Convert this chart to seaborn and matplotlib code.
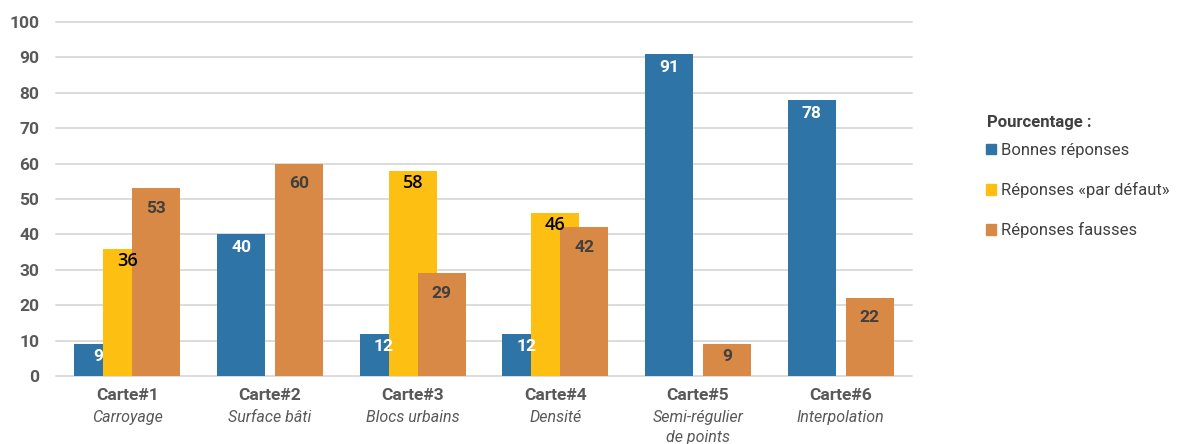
import numpy as np
import pandas as pd
import seaborn as sns
import matplotlib.pyplot as plt
from matplotlib.patches import Patch

# Data
cartes = ["Carte#1", "Carte#2", "Carte#3", "Carte#4", "Carte#5", "Carte#6"]
sous_titres = ["Carroyage", "Surface bâti", "Blocs urbains", "Densité",
               "Semi-régulier\nde points", "Interpolation"]
bonnes = [9, 40, 12, 12, 91, 78]
defaut = [36, np.nan, 58, 46, np.nan, np.nan]
fausses = [53, 60, 29, 42, 9, 22]
series = ["Bonnes réponses", "Réponses «par défaut»", "Réponses fausses"]
couleurs = ["#2e74a7", "#fcbf12", "#d78945"]

sns.set_theme(style="white")
plt.rcParams['font.family'] = ['Roboto', 'DejaVu Sans']

fig = plt.figure(figsize=(11.99, 4.44), dpi=100)
ax = fig.add_axes([0.0467, 0.1532, 0.714, 0.797])

offsets = [-0.203, 0.0, 0.203]
label_style = [
    dict(color="white", fontweight="bold", fontsize=12.5),
    dict(color="black", fontweight="semibold", fontsize=13, family=["Open Sans", "DejaVu Sans"]),
    dict(color="#404040", fontweight="bold", fontsize=12.5),
]
label_drop = [3.7, 3.4, 5.6]

for k, vals in enumerate([bonnes, defaut, fausses]):
    d = pd.DataFrame({"pos": np.arange(len(cartes)) + offsets[k], "val": vals}).dropna()
    sns.barplot(data=d, x="pos", y="val", native_scale=True, width=0.336,
                color=couleurs[k], saturation=1, errorbar=None, ax=ax,
                zorder=2 + k, linewidth=0)
    for p, v in zip(d["pos"], d["val"]):
        dy = min(label_drop[k], 0.4 * v)
        ax.text(p, v - dy, f"{v:.0f}", ha="center", va="center", zorder=10,
                **label_style[k])

ax.set_xlim(-0.5, len(cartes) - 0.5)
ax.set_ylim(0, 100)
ax.set_xlabel("")
ax.set_ylabel("")
ax.set_yticks(range(0, 101, 10))
ax.set_yticklabels([str(t) for t in range(0, 101, 10)], fontweight="bold",
                   color="#595959", fontsize=12.5)
ax.set_xticks(range(len(cartes)))
ax.set_xticklabels(cartes, fontweight="bold", color="#595959", fontsize=12.5)
ax.tick_params(axis="y", length=0, pad=12)
ax.tick_params(axis="x", length=0, pad=9)

for i, s in enumerate(sous_titres):
    ax.text(i, -0.097, s, transform=ax.get_xaxis_transform(), ha="center",
            va="top", style="italic", color="#595959", fontsize=11.5,
            linespacing=1.35)

ax.set_axisbelow(True)
ax.yaxis.grid(True, color="#d9d9d9", linewidth=1.3)
for line in ax.get_ygridlines():
    line.set_clip_on(False)
sns.despine(ax=ax, left=True, bottom=True)

# legend: title as separate text, entries below
fig.text(0.823, 0.725, "Pourcentage :", fontweight="bold", fontsize=12,
         color="#404040", ha="left", va="center")
handles = [Patch(color=c, label=s) for c, s in zip(couleurs, series)]
leg = fig.legend(handles=handles, loc="upper left",
                 bbox_to_anchor=(0.822, 0.678), frameon=False,
                 handlelength=0.6, handleheight=0.6, handletextpad=0.3,
                 labelspacing=1.45, borderpad=0, borderaxespad=0, fontsize=12)
for t in leg.get_texts():
    t.set_color("#404040")

fig.savefig("out.png", dpi=100)
